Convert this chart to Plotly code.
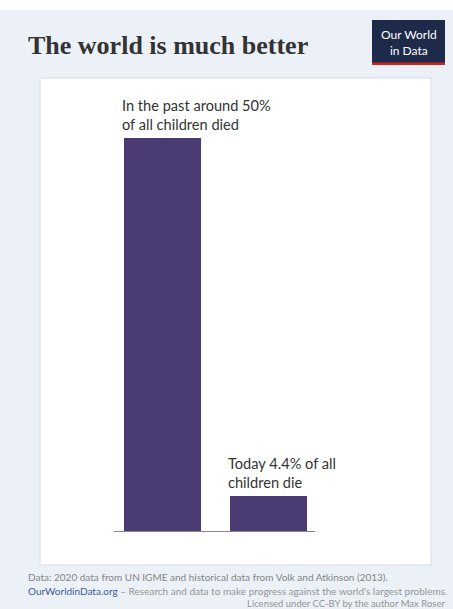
import plotly.graph_objects as go

W, H = 453, 609

# ---- data ----
categories = ["In the past", "Today"]
share_died = [50, 4.4]
bar_labels = ["In the past around 50%<br>of all children died",
              "Today 4.4% of all<br>children die"]

title = "The world is much better"
source = "Data: 2020 data from UN IGME and historical data from Volk and Atkinson (2013)."
owid = "OurWorldinData.org"
tagline = " – Research and data to make progress against the world's largest problems."
license_txt = "Licensed under CC-BY by the author Max Roser"

BAR = "#4a3c72"
BG = "#ebf1f7"

def fx(px):
    return px / W

def fy(py):
    return 1 - py / H

fig = go.Figure()
fig.add_trace(go.Bar(
    x=list(range(len(categories))), y=share_died, width=0.726,
    marker=dict(color=BAR, line=dict(width=0)),
    hovertext=categories, hoverinfo="skip", showlegend=False,
))

annotations = []
for i, (v, lab) in enumerate(zip(share_died, bar_labels)):
    annotations.append(dict(
        x=i - 0.363, y=v, xref="x", yref="y", text=lab, showarrow=False,
        xanchor="left", yanchor="bottom", align="left", xshift=-4, yshift=3,
        font=dict(family="Lato", size=14.6, color="#333333", weight=400),
    ))

shapes = [
    dict(type="rect", xref="paper", yref="paper", x0=0, x1=1, y0=fy(10), y1=1,
         fillcolor="white", line=dict(width=0), layer="below"),
    dict(type="rect", xref="paper", yref="paper", x0=fx(40), x1=fx(431),
         y0=fy(565), y1=fy(78), fillcolor="white",
         line=dict(color="#d8dde3", width=1), layer="below"),
    dict(type="rect", xref="paper", yref="paper", x0=fx(372), x1=fx(445),
         y0=fy(65), y1=fy(20), fillcolor="#1d2a4a", line=dict(width=0), layer="below"),
    dict(type="rect", xref="paper", yref="paper", x0=fx(372), x1=fx(445),
         y0=fy(65), y1=fy(62.5), fillcolor="#ce261e", line=dict(width=0), layer="below"),
]

annotations += [
    dict(x=fx(26), y=fy(45), xref="paper", yref="paper", text="<b>" + title + "</b>",
         showarrow=False, xanchor="left", yanchor="middle",
         font=dict(family="Liberation Serif", size=26, color="#333333")),
    dict(x=fx(408.5), y=fy(42), xref="paper", yref="paper", text="Our World<br>in Data",
         showarrow=False, xanchor="center", yanchor="middle",
         font=dict(family="Lato", size=12, color="white", weight=400)),
    dict(x=fx(26), y=fy(577), xref="paper", yref="paper", text=source,
         showarrow=False, xanchor="left", yanchor="middle",
         font=dict(family="Lato", size=10, color="#858585", weight=400)),
    dict(x=fx(26), y=fy(590.5), xref="paper", yref="paper",
         text="<span style='color:#3d5a99'>" + owid + "</span>" + tagline,
         showarrow=False, xanchor="left", yanchor="middle",
         font=dict(family="Lato", size=10, color="#959595", weight=400)),
    dict(x=fx(447), y=fy(603), xref="paper", yref="paper", text=license_txt,
         showarrow=False, xanchor="right", yanchor="middle",
         font=dict(family="Lato", size=9.5, color="#959595", weight=400)),
]

fig.update_layout(
    width=W, height=H,
    margin=dict(l=0, r=0, t=0, b=0),
    paper_bgcolor=BG, plot_bgcolor="rgba(0,0,0,0)",
    bargap=0,
    xaxis=dict(domain=[fx(114), fx(315)], range=[-0.458, 1.44],
               showgrid=False, zeroline=False, showticklabels=False,
               showline=True, linecolor="#888888", linewidth=1, ticks="",
               fixedrange=True),
    yaxis=dict(domain=[fy(531), fy(138)], range=[0, 50],
               showgrid=False, zeroline=False, showticklabels=False,
               showline=False, fixedrange=True),
    showlegend=False,
)
fig.layout.shapes = shapes
fig.layout.annotations = annotations

fig.write_html("out.html", config={"displayModeBar": False},
               post_script="document.body.style.margin='0';document.body.style.overflow='hidden';")
